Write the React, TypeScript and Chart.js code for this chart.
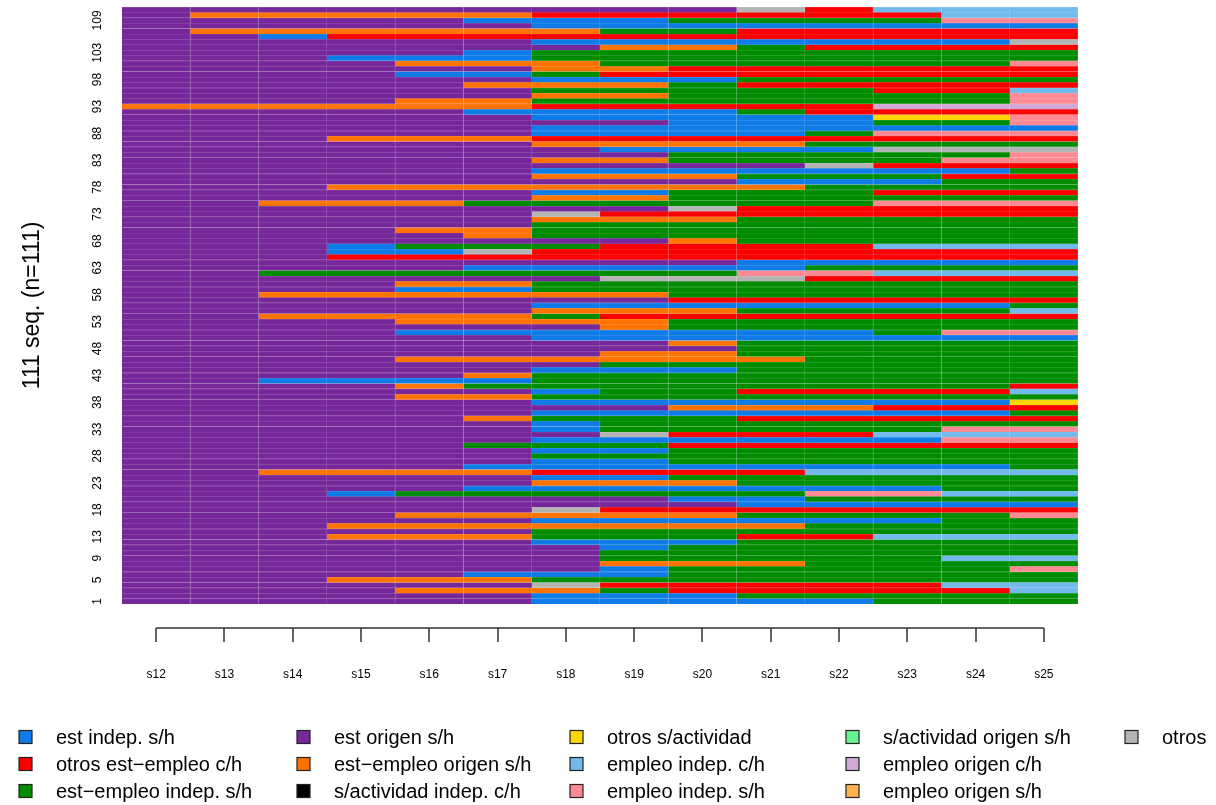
import React, { useEffect, useRef } from 'react';
import { Chart, registerables } from 'chart.js';

Chart.register(...registerables);

// time points (columns)
const timeLabels = ['s12', 's13', 's14', 's15', 's16', 's17', 's18', 's19', 's20', 's21', 's22', 's23', 's24', 's25'];

// state alphabet
const stateCodes = ['B', 'R', 'N', 'P', 'O', 'K', 'Y', 'L', 'S', 'M', 'V', 'A', 'G'];
const stateLabels = [
  'est indep. s/h',
  'otros est\u2212empleo c/h',
  'est\u2212empleo indep. s/h',
  'est origen s/h',
  'est\u2212empleo origen s/h',
  's/actividad indep. c/h',
  'otros s/actividad',
  'empleo indep. c/h',
  'empleo indep. s/h',
  's/actividad origen s/h',
  'empleo origen c/h',
  'empleo origen s/h',
  'otros',
];
const stateColors = [
  '#0F7BE6', // est indep. s/h
  '#FA0000', // otros est-empleo c/h
  '#008C00', // est-empleo indep. s/h
  '#76289A', // est origen s/h
  '#FF7300', // est-empleo origen s/h
  '#000000', // s/actividad indep. c/h
  '#FFD700', // otros s/actividad
  '#72BAEC', // empleo indep. c/h
  '#FF8A94', // empleo indep. s/h
  '#66F28C', // s/actividad origen s/h
  '#CFA8D8', // empleo origen c/h
  '#FFB24F', // empleo origen s/h
  '#B4B4B4', // otros
];

// y axis tick labels (sequence numbers)
const yTickLabels = [1, 5, 9, 13, 18, 23, 28, 33, 38, 43, 48, 53, 58, 63, 68, 73, 78, 83, 88, 93, 98, 103, 109];
const yTitle = '111 seq. (n=111)';

// sequences, row 1 (bottom) to row 111 (top); one character per time point s12..s25
const sequences = [
  'PPPPPPBBBBBNNN',
  'PPPPPPBBBNNNNN',
  'PPPPOOONRRRRRL',
  'PPPPPPGRRRRRLL',
  'PPPOOONNNNNNNN',
  'PPPPPBBBNNNNNN',
  'PPPPPPPBNNNNNS',
  'PPPPPPPOOONNNN',
  'PPPPPPPNNNNNLL',
  'PPPPPPPNNNNNNN',
  'PPPPPPPBNNNNNN',
  'PPPPPPBBBNNNNN',
  'PPPOOONNNRRLLL',
  'PPPPPPNNNNNNNN',
  'PPPOOOOOOONNNN',
  'PPPPPPBBBBBBNN',
  'PPPPOOOOONNNNS',
  'PPPPPPGRRRRRRR',
  'PPPPPPPPPBBBBB',
  'PPPPPPPPBBNNNN',
  'PPPBNNNNNNSSLL',
  'PPPPPBBBBBBBNN',
  'PPPPPPOOONNNNN',
  'PPPPPPBBNNNNNN',
  'PPOOOORRRRLLLL',
  'PPPPPBBBBBBBBN',
  'PPPPPPBBNNNNNN',
  'PPPPPPNNNNNNNN',
  'PPPPPPBBNNNNNN',
  'PPPPPNNNRRRRRR',
  'PPPPPPBBBBBBSS',
  'PPPPPPPGRRRLLL',
  'PPPPPPBNNNNNSS',
  'PPPPPPBNNNNNNN',
  'PPPPPONNNRRRRR',
  'PPPPPPBBBBBBBN',
  'PPPPPPPPOOORRR',
  'PPPPPPBBBBBBBY',
  'PPPPOONNNNNNNN',
  'PPPPPPBNNRRRRL',
  'PPPPONNNNNNNNR',
  'PPBBBBNNNNNNNN',
  'PPPPPONNNNNNNN',
  'PPPPPPBBBNNNNN',
  'PPPPPPPNNNNNNN',
  'PPPPOOOOOONNNN',
  'PPPPPPPOONNNNN',
  'PPPPPPPPPNNNNN',
  'PPPPPPPPONNNNN',
  'PPPPPPBBBBBBBB',
  'PPPPBBBBBBBNSS',
  'PPPPPPPONNNNNN',
  'PPPPOOOONNNNNN',
  'PPOOOONRRRRRRR',
  'PPPPPPOOONNNNL',
  'PPPPPPBBBBBBBN',
  'PPPPPPPPRRRRRR',
  'PPOOOOOONNNNNN',
  'PPPPBBNNNNNNNN',
  'PPPPOONNNNNNNN',
  'PPPPPPPGGGRRRR',
  'PPNNNNNNNSSLLL',
  'PPPPPBBBBBNNNN',
  'PPPPPPPPPBBBBB',
  'PPPRRRRRRRRRRR',
  'PPPBBGRRRRRRRR',
  'PPPBNNNRRRRLLL',
  'PPPPPPPPONNNNN',
  'PPPPPONNNNNNNN',
  'PPPPOONNNNNNNN',
  'PPPPPPNNNNNNNN',
  'PPPPPPOOONNNNN',
  'PPPPPPGRRRRRRR',
  'PPPPPPPPGRRRRR',
  'PPOOONNNNNNSSS',
  'PPPPPPOONNNNNN',
  'PPPPPPBBNNNRRR',
  'PPPOOOOOOONNNN',
  'PPPPPPPPPBBBNN',
  'PPPPPPOOONNNRR',
  'PPPPPPBBBBBBBN',
  'PPPPPPPPPPGRRR',
  'PPPPPPOONNNNSS',
  'PPPPPPPPNNNNNS',
  'PPPPPPPBBBBGGG',
  'PPPPPPOOOONNNN',
  'PPPOOORRRRRRRR',
  'PPPPPPBBBBNSSS',
  'PPPPPPBBBBBBBB',
  'PPPPPPPPBBBNNS',
  'PPPPPPBBBBBYYS',
  'PPPPPBBBBNRRRR',
  'OOOOOORRRRRVVV',
  'PPPPOONNNNNNNS',
  'PPPPPPOONNNNNS',
  'PPPPPPNNNNNRRL',
  'PPPPPOOONRRRRR',
  'PPPPPPBBBNNNNN',
  'PPPPBBNRRRRRRR',
  'PPPPPPOORRRRRR',
  'PPPPOOONNNNNNS',
  'PPPBBBNNNNNNNN',
  'PPPPPBNNNNNNNN',
  'PPPPPPPOONRRRR',
  'PPPPPPBBBBBBBG',
  'PPBRRRRRRRRRRR',
  'POOOOOONNRRRRR',
  'PPPPPPBBBBBBBB',
  'PPPPPBBBNNNNSS',
  'POOOOORRRRRRLL',
  'PPPPPPPPPGRLLL',
];

// legend layout: column-major, 3 rows
const legendRows = 3;
const legendTextX = [56, 334, 607, 883, 1162];
const legendRowY = [737, 764, 791];

const FONT = '"Liberation Sans", Arial, Helvetica, sans-serif';

const colorOf = (code: string) => stateColors[stateCodes.indexOf(code)];

// slightly lighter tint for the faint seams between cells
const tint = (hex: string, w: number) => {
  const n = parseInt(hex.slice(1), 16);
  const r = (n >> 16) & 255, g = (n >> 8) & 255, b = n & 255;
  const m = (c: number) => Math.round(c + (255 - c) * w);
  return `rgb(${m(r)},${m(g)},${m(b)})`;
};

const decorPlugin = {
  id: 'decor',
  afterDraw(chart: any) {
    const ctx: CanvasRenderingContext2D = chart.ctx;
    const xs = chart.scales.x;
    const ys = chart.scales.y;
    const area = chart.chartArea;
    ctx.save();

    // y tick labels (rotated)
    ctx.fillStyle = '#000';
    ctx.font = `12px ${FONT}`;
    ctx.textAlign = 'center';
    ctx.textBaseline = 'middle';
    yTickLabels.forEach((v) => {
      const y = ys.getPixelForValue(v - 1);
      ctx.save();
      ctx.translate(98, y);
      ctx.rotate(-Math.PI / 2);
      ctx.fillText(String(v), 0, 0);
      ctx.restore();
    });

    // y title
    ctx.font = `23px ${FONT}`;
    ctx.save();
    ctx.translate(33, (area.top + area.bottom) / 2);
    ctx.rotate(-Math.PI / 2);
    ctx.fillText(yTitle, 0, 0);
    ctx.restore();

    // x axis (separate, below plot)
    const axisY = 628;
    const x1 = xs.getPixelForValue(0.5);
    const x2 = xs.getPixelForValue(timeLabels.length - 0.5);
    ctx.strokeStyle = '#333';
    ctx.lineWidth = 1.5;
    ctx.beginPath();
    ctx.moveTo(x1, axisY);
    ctx.lineTo(x2, axisY);
    timeLabels.forEach((_, j) => {
      const x = Math.round(xs.getPixelForValue(j + 0.5));
      ctx.moveTo(x, axisY);
      ctx.lineTo(x, axisY + 14);
    });
    ctx.stroke();
    ctx.font = `12px ${FONT}`;
    ctx.fillStyle = '#000';
    timeLabels.forEach((t, j) => {
      ctx.fillText(t, xs.getPixelForValue(j + 0.5), 675);
    });

    // legend
    ctx.font = `20px ${FONT}`;
    ctx.textAlign = 'left';
    ctx.textBaseline = 'middle';
    stateLabels.forEach((lab, i) => {
      const col = Math.floor(i / legendRows);
      const row = i % legendRows;
      const tx = legendTextX[col];
      const cy = legendRowY[row];
      const bx = tx - 37;
      ctx.fillStyle = stateColors[i];
      ctx.fillRect(bx, cy - 6.5, 13, 13);
      ctx.strokeStyle = '#222';
      ctx.lineWidth = 1.2;
      ctx.strokeRect(bx, cy - 6.5, 13, 13);
      ctx.fillStyle = '#000';
      ctx.fillText(lab, tx, cy + 1);
    });

    ctx.restore();
  },
};

export default function App() {
  const canvasRef = useRef<HTMLCanvasElement | null>(null);

  useEffect(() => {
    document.body.style.margin = '0';
    const canvas = canvasRef.current;
    if (!canvas) return;
    const datasets = timeLabels.map((t, j) => ({
      label: t,
      data: sequences.map(() => 1),
      backgroundColor: sequences.map((s) => colorOf(s[j])),
      borderColor: sequences.map((s) => tint(colorOf(s[j]), 0.22)),
      borderWidth: { top: 0.8, right: 0.8, bottom: 0, left: 0 },
      borderSkipped: false,
      barPercentage: 1,
      categoryPercentage: 1,
      stack: 'seq',
    }));
    const chart = new Chart(canvas, {
      type: 'bar',
      data: {
        labels: sequences.map((_, i) => String(i + 1)),
        datasets,
      },
      options: {
        indexAxis: 'y',
        responsive: false,
        devicePixelRatio: 1,
        animation: false,
        events: [],
        layout: { padding: { left: 122, right: 138, top: 7, bottom: 201 } },
        scales: {
          x: { type: 'linear', min: 0, max: timeLabels.length, stacked: true, display: false },
          y: { type: 'category', stacked: true, reverse: true, display: false },
        },
        plugins: {
          legend: { display: false },
          tooltip: { enabled: false },
          title: { display: false },
        },
      },
      plugins: [decorPlugin],
    } as any);
    return () => chart.destroy();
  }, []);

  return (
    <div style={{ position: 'absolute', left: 0, top: 0, width: 1216, height: 805, background: '#fff' }}>
      <canvas ref={canvasRef} width={1216} height={805} style={{ display: 'block' }} />
    </div>
  );
}
